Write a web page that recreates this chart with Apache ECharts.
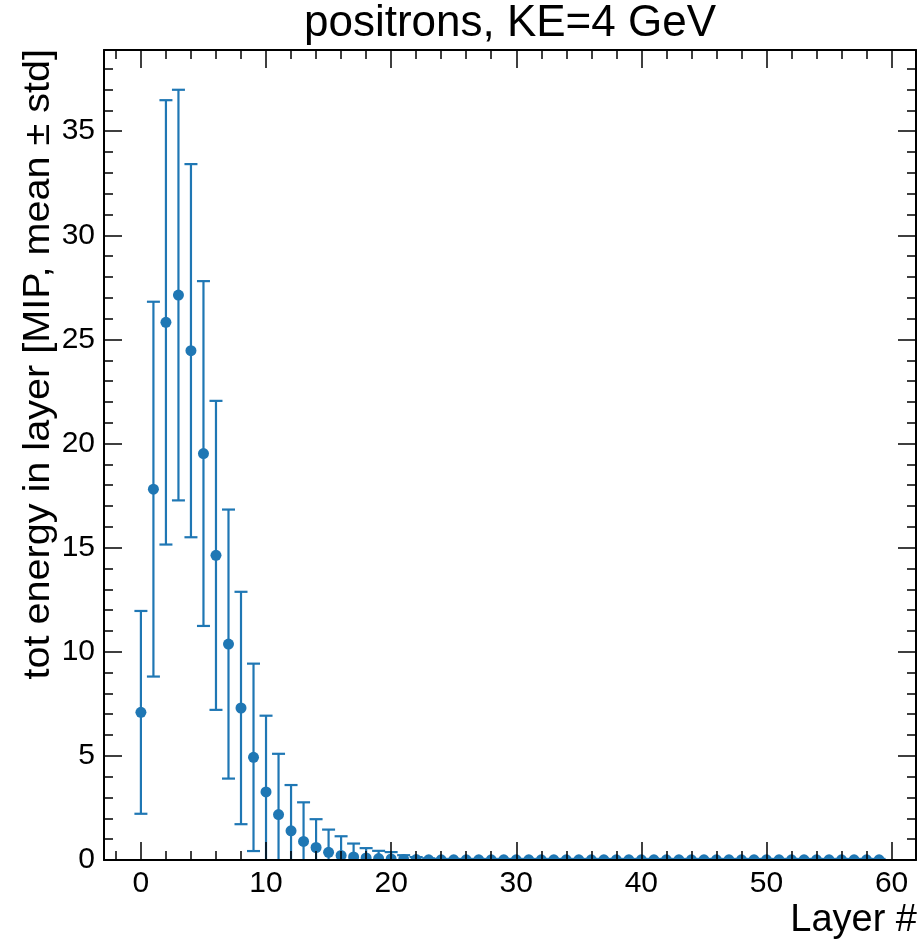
<!DOCTYPE html>
<html>
<head>
<meta charset="utf-8">
<script src="https://cdn.jsdelivr.net/npm/echarts@6/dist/echarts.min.js"></script>
<style>
html,body{margin:0;padding:0;background:#fff;}
#chart{width:918px;height:940px;}
</style>
</head>
<body>
<div id="chart"></div>
<script>
// ---- data ----
const layers = [0,1,2,3,4,5,6,7,8,9,10,11,12,13,14,15,16,17,18,19,20,21,22,23,24,25,26,27,28,29,30,31,32,33,34,35,36,37,38,39,40,41,42,43,44,45,46,47,48,49,50,51,52,53,54,55,56,57,58,59];
const meanVals = [7.09,17.81,25.82,27.13,24.46,19.52,14.63,10.37,7.30,4.93,3.27,2.18,1.40,0.89,0.60,0.37,0.22,0.15,0.10,0.07,0.05,0.03,0.02,0.01,0.01,0.01,0.01,0.01,0.01,0.01,0.01,0.01,0.01,0.01,0.01,0.01,0.01,0.01,0.01,0.01,0.01,0.01,0.01,0.01,0.01,0.01,0.01,0.01,0.01,0.01,0.01,0.01,0.01,0.01,0.01,0.01,0.01,0.01,0.01,0.01];
const stdVals = [4.87,9.00,10.67,9.86,8.96,8.28,7.42,6.46,5.58,4.50,3.66,2.92,2.20,1.88,1.36,1.09,0.92,0.64,0.47,0.37,0.33,0.20,0.12,0.07,0.04,0.04,0.04,0.04,0.04,0.04,0.04,0.04,0.04,0.04,0.04,0.04,0.04,0.04,0.04,0.04,0.04,0.04,0.04,0.04,0.04,0.04,0.04,0.04,0.04,0.04,0.04,0.04,0.04,0.04,0.04,0.04,0.04,0.04,0.04,0.04];
const xMajorTicks = [0,10,20,30,40,50,60];
const xMinorTicks = [-2,2,4,6,8,12,14,16,18,22,24,26,28,32,34,36,38,42,44,46,48,52,54,56,58];
const yMajorTicks = [0,5,10,15,20,25,30,35];
const yMinorTicks = [1,2,3,4,6,7,8,9,11,12,13,14,16,17,18,19,21,22,23,24,26,27,28,29,31,32,33,34,36,37,38];
const titleText = 'positrons, KE=4 GeV';
const xTitle = 'Layer #';
const yTitle = 'tot energy in layer [MIP, mean \u00b1 std]';

// ---- chart ----
const FONT = '"Liberation Sans", Arial, Helvetica, sans-serif';
const COLOR = '#1f77b4';
const X_MIN = -2.95, X_MAX = 61.95, Y_MIN = 0, Y_MAX = 38.9;

const chart = echarts.init(document.getElementById('chart'), null, {renderer: 'canvas'});

function xAxisDef(pos, ticks, len, withLabels, withLine) {
  return {
    type: 'value', position: pos, min: X_MIN, max: X_MAX, gridIndex: 0, z: 5,
    axisLine: {show: withLine, onZero: false, lineStyle: {color: '#000', width: 2}},
    axisTick: {show: true, inside: true, length: len, customValues: ticks, lineStyle: {color: '#000', width: 1.5}},
    axisLabel: withLabels ? {show: true, customValues: ticks, margin: 9, color: '#000', fontSize: 30, fontFamily: FONT} : {show: false},
    splitLine: {show: false}, minorTick: {show: false}
  };
}
function yAxisDef(pos, ticks, len, withLabels, withLine) {
  return {
    type: 'value', position: pos, min: Y_MIN, max: Y_MAX, gridIndex: 0, z: 5,
    axisLine: {show: withLine, onZero: false, lineStyle: {color: '#000', width: 2}},
    axisTick: {show: true, inside: true, length: len, customValues: ticks, lineStyle: {color: '#000', width: 1.5}},
    axisLabel: withLabels ? {show: true, customValues: ticks, margin: 9, color: '#000', fontSize: 30, fontFamily: FONT} : {show: false},
    splitLine: {show: false}, minorTick: {show: false}
  };
}

const seriesData = layers.map((l, i) => [l, meanVals[i], stdVals[i]]);

const option = {
  animation: false,
  backgroundColor: '#fff',
  title: {
    text: titleText, left: 510, top: 2, textAlign: 'center', padding: 0,
    textStyle: {fontSize: 44, fontWeight: 'normal', color: '#000', fontFamily: FONT}
  },
  grid: {left: 104, right: 2, top: 50, bottom: 80, containLabel: false},
  xAxis: [
    xAxisDef('bottom', xMajorTicks, 18, true, true),
    xAxisDef('bottom', xMinorTicks, 9, false, false),
    xAxisDef('top', xMajorTicks, 18, false, true),
    xAxisDef('top', xMinorTicks, 9, false, false)
  ],
  yAxis: [
    yAxisDef('left', yMajorTicks, 18, true, true),
    yAxisDef('left', yMinorTicks, 9, false, false),
    yAxisDef('right', yMajorTicks, 18, false, true),
    yAxisDef('right', yMinorTicks, 9, false, false)
  ],
  graphic: [
    {type: 'text', x: 917, y: 921, z: 10,
     style: {text: xTitle, fill: '#000', font: '38px ' + FONT, textAlign: 'right', verticalAlign: 'middle'}},
    {type: 'text', x: 39, y: 49, rotation: Math.PI / 2, scaleX: 1.07, z: 10,
     style: {text: yTitle, fill: '#000', font: '37px ' + FONT, textAlign: 'right', verticalAlign: 'middle'}}
  ],
  series: [{
    type: 'custom',
    xAxisIndex: 0, yAxisIndex: 0,
    clip: true,
    z: 2,
    data: seriesData,
    renderItem: function (params, api) {
      const x = api.value(0), m = api.value(1), s = api.value(2);
      const c = api.coord([x, m]);
      const t = api.coord([x, m + s]);
      const b = api.coord([x, m - s]);
      const hw = 6.5;
      const ls = {stroke: COLOR, lineWidth: 2.2, fill: null};
      return {
        type: 'group',
        children: [
          {type: 'line', shape: {x1: c[0], y1: t[1], x2: c[0], y2: b[1]}, style: ls},
          {type: 'line', shape: {x1: c[0] - hw, y1: t[1], x2: c[0] + hw, y2: t[1]}, style: ls},
          {type: 'line', shape: {x1: c[0] - hw, y1: b[1], x2: c[0] + hw, y2: b[1]}, style: ls},
          {type: 'circle', shape: {cx: c[0], cy: c[1], r: 5.5}, style: {fill: COLOR, stroke: null}}
        ]
      };
    }
  }]
};
chart.setOption(option);
</script>
</body>
</html>
